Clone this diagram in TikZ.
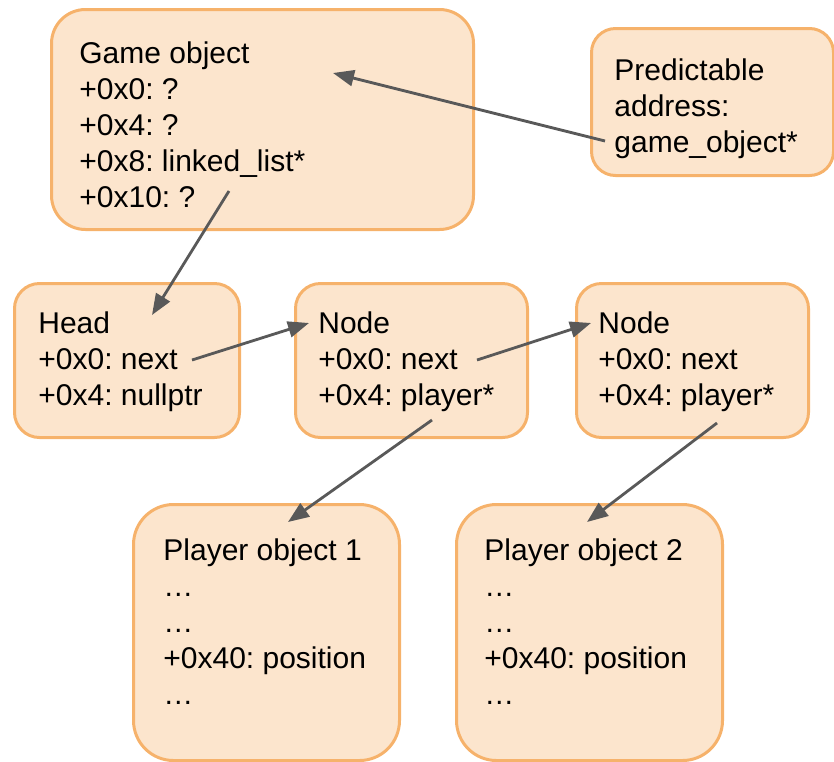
\documentclass[tikz,border=0pt]{standalone}
\usepackage{fontspec}
\setmainfont{Liberation Sans}
\frenchspacing
\usetikzlibrary{arrows.meta}
\definecolor{boxfill}{HTML}{FCE5CD}
\definecolor{boxline}{HTML}{F6B26B}
\definecolor{ptrgray}{HTML}{595959}
\tikzset{
  objbox/.style={draw=boxline, fill=boxfill, line width=1.5pt, anchor=north west, inner sep=0pt},
  objtext/.style={anchor=north west, inner sep=0pt, align=left, font=\fontsize{15}{18}\selectfont},
  ptr/.style={-{Triangle[length=10.5pt,width=8pt]}, draw=ptrgray, line width=1.4pt}
}

\begin{document}
\begin{tikzpicture}[x=0.5pt,y=-0.5pt]
  \useasboundingbox (0,0) rectangle (834,761);
  % boxes
  \node[objbox, rounded corners=17pt, minimum width=211pt, minimum height=110pt] (game) at (50,8) {};
  \node[objbox, rounded corners=12pt, minimum width=121pt, minimum height=73.5pt] (pred) at (590,27) {};
  \node[objbox, rounded corners=12.5pt, minimum width=112.5pt, minimum height=77pt] (head) at (13,282) {};
  \node[objbox, rounded corners=12.5pt, minimum width=116pt, minimum height=77pt] (nodeA) at (294,282) {};
  \node[objbox, rounded corners=12.5pt, minimum width=116pt, minimum height=77pt] (nodeB) at (575,282) {};
  \node[objbox, rounded corners=20pt, minimum width=133pt, minimum height=128pt] (playerA) at (132,503) {};
  \node[objbox, rounded corners=20pt, minimum width=133pt, minimum height=128pt] (playerB) at (455,503) {};
  % texts
  \node[objtext] (gametxt) at (79,41.5) {Game object\\+0x0: ?\\+0x4: ?\\+0x8: linked\_list*\\+0x10: ?};
  \node[objtext] (predtxt) at (614,58.5) {Predictable\\address:\\game\_object*};
  \node[objtext] (headtxt) at (38,311.5) {Head\\+0x0: next\\+0x4: nullptr};
  \node[objtext] (nodeAtxt) at (318,311.5) {Node\\+0x0: next\\+0x4: player*};
  \node[objtext] (nodeBtxt) at (598,311.5) {Node\\+0x0: next\\+0x4: player*};
  \node[objtext] (playerAtxt) at (163,538.5) {Player object 1\\…\\…\\+0x40: position\\…};
  \node[objtext] (playerBtxt) at (484,538.5) {Player object 2\\…\\…\\+0x40: position\\…};
  % pointer ends
  \coordinate (predptr) at (605,141);
  \coordinate (gamehit) at (333,73);
  \coordinate (listptr) at (229,191);
  \coordinate (headhit) at (152,315);
  \coordinate (headnext) at (192,360);
  \coordinate (nodeAhit) at (309,323);
  \coordinate (nodeAnext) at (477,360);
  \coordinate (nodeBhit) at (591,323);
  \coordinate (nodeAplayer) at (432,420);
  \coordinate (playerAhit) at (288,522);
  \coordinate (nodeBplayer) at (717,423);
  \coordinate (playerBhit) at (587,522);
  % pointers
  \draw[ptr] (predptr) -- (gamehit);
  \draw[ptr] (listptr) -- (headhit);
  \draw[ptr] (headnext) -- (nodeAhit);
  \draw[ptr] (nodeAnext) -- (nodeBhit);
  \draw[ptr] (nodeAplayer) -- (playerAhit);
  \draw[ptr] (nodeBplayer) -- (playerBhit);
\end{tikzpicture}
\end{document}
